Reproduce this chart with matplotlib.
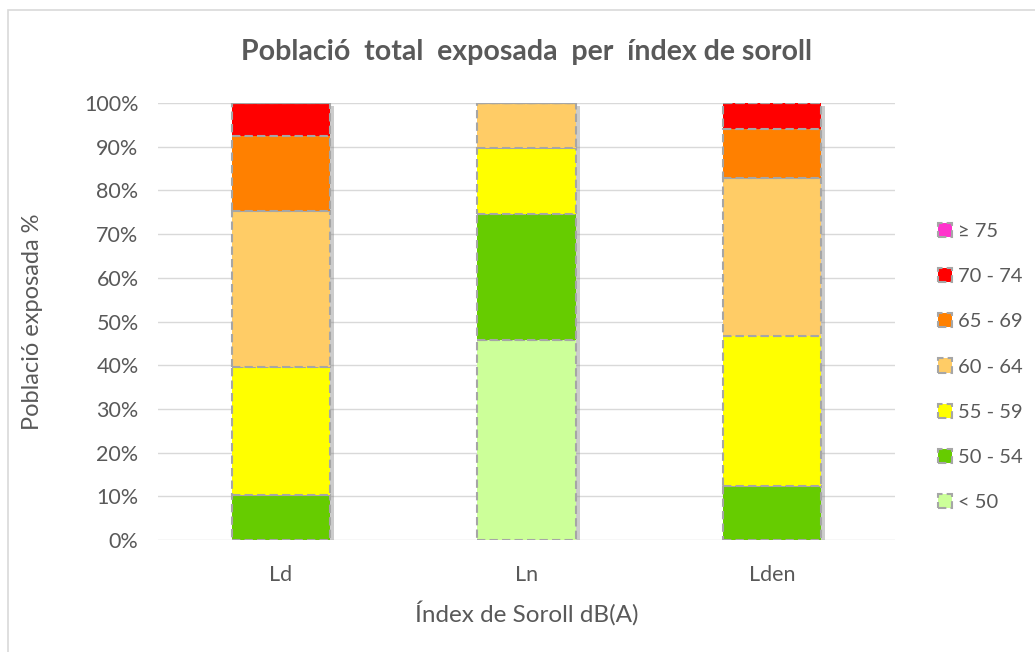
import matplotlib
matplotlib.use("Agg")
import matplotlib.pyplot as plt
import matplotlib.patheffects as pe
from matplotlib.patches import Rectangle
from matplotlib.ticker import PercentFormatter
import numpy as np

plt.rcParams['font.family'] = ['Lato', 'DejaVu Sans']

categories = ['Ld', 'Ln', 'Lden']
series_labels = ['< 50', '50 - 54', '55 - 59', '60 - 64', '65 - 69', '70 - 74', '\u2265 75']
series_colors = ['#CCFF99', '#66CC00', '#FFFF00', '#FFCC66', '#FF8000', '#FF0000', '#FF33CC']
v_lt50 = [0.0, 45.8, 0.0]
v_50_54 = [10.4, 28.8, 12.4]
v_55_59 = [29.1, 15.0, 34.3]
v_60_64 = [35.9, 10.4, 36.1]
v_65_69 = [17.0, 0.0, 11.3]
v_70_74 = [7.6, 0.0, 5.9]
v_ge75 = [0.0, 0.0, 0.0]
series_values = [v_lt50, v_50_54, v_55_59, v_60_64, v_65_69, v_70_74, v_ge75]

W, H = 1035, 652
fig = plt.figure(figsize=(W / 100, H / 100), dpi=100)
fig.patch.set_facecolor('white')
# outer chart border
fig.add_artist(Rectangle((8 / W, -0.1), 1.2, 1 - 10 / H + 0.1, transform=fig.transFigure,
                         fill=False, edgecolor='#D9D9D9', linewidth=1.2))

ax = fig.add_axes([158 / W, 1 - 540 / H, (895 - 158) / W, (540 - 103) / H])
x = np.arange(len(categories))
width = 0.4

totals = np.sum(np.array(series_values), axis=0)
shadow = ax.bar(x, totals, width=width, color='white', edgecolor='none', zorder=2)
for p in shadow:
    p.set_path_effects([pe.SimplePatchShadow(offset=(3, -2), shadow_rgbFace='#808080', alpha=0.4),
                        pe.Normal()])

bottom = np.zeros(len(categories))
handles = []
for vals, col, lab in zip(series_values, series_colors, series_labels):
    vals = np.array(vals)
    b = ax.bar(x, vals, width=width, bottom=bottom, color=col, edgecolor='#A6A6A6',
               linewidth=1.5, linestyle=(0, (4, 2)), label=lab, zorder=3)
    handles.append(b)
    bottom += vals

ax.set_xlim(-0.5, len(categories) - 0.5)
ax.set_ylim(0, 100)
ax.set_yticks(np.arange(0, 101, 10))
ax.yaxis.set_major_formatter(PercentFormatter(decimals=0))
ax.set_xticks(x)
ax.set_xticklabels(categories)
ax.grid(axis='y', color='#D9D9D9', linewidth=1.0, zorder=0)
ax.set_axisbelow(True)
for s in ax.spines.values():
    s.set_visible(False)
ax.tick_params(axis='both', length=0, labelsize=15.5, colors='#595959')
ax.tick_params(axis='y', pad=14)
ax.tick_params(axis='x', pad=18)

ax.set_xlabel('\u00cdndex de Soroll dB(A)', fontsize=17.5, color='#595959')
ax.set_ylabel('Poblaci\u00f3 exposada %', fontsize=17, color='#595959')
ax.xaxis.set_label_coords(0.5, -(601 - 540) / 437)
ax.yaxis.set_label_coords((43 - 158) / 737, 0.5)

fig.text((158 + 895) / 2 / W, 1 - 52 / H, 'Poblaci\u00f3  total  exposada  per  \u00edndex de soroll',
         ha='center', va='center', fontsize=20.5, fontweight='bold', color='#595959')

leg = fig.legend(handles[::-1], series_labels[::-1], loc='center left',
                 bbox_to_anchor=(920 / W, 1 - 367 / H), frameon=False,
                 fontsize=14.5, labelcolor='#595959', handlelength=0.7, handleheight=0.7,
                 handletextpad=0.3, labelspacing=1.40)

fig.savefig('out.png', dpi=100, facecolor='white')
